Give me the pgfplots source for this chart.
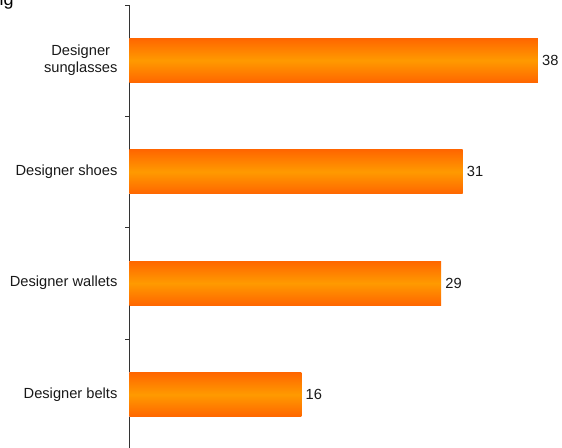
\documentclass[border=0pt]{standalone}
\usepackage{pgfplots}
\pgfplotsset{compat=1.18}
\usetikzlibrary{calc}
\usepackage{fontspec}
\setmainfont{Liberation Sans}
\definecolor{barDark}{HTML}{FF6600}
\definecolor{barLight}{HTML}{FF9A00}
\begin{document}
\begin{tikzpicture}
\begin{axis}[
  scale only axis,
  width=322.5pt, height=334.2pt,
  xmin=0, xmax=40,
  ymin=0.5, ymax=4.5,
  xbar, bar width=33.2pt, bar shift=0pt,
  axis x line=none,
  axis y line*=left,
  y axis line style={-, black!80},
  ytick={1,2,3,4},
  yticklabels={Designer belts, Designer wallets, Designer shoes, {Designer\\sunglasses}},
  major tick length=0pt,
  minor ytick={0.5,1.5,2.5,3.5,4.5},
  minor tick length=3.2pt,
  tick align=outside,
  tick style={black!80},
  /pgf/number format/assume math mode=true,
  yticklabel style={align=center, font=\fontsize{11}{13}\selectfont, xshift=-5.5pt, text=black!90},
  nodes near coords,
  nodes near coords style={font=\fontsize{11}{13}\selectfont, anchor=west, inner sep=0pt, xshift=3pt, text=black!90},
  every axis plot/.append style={draw=none, top color=barDark, bottom color=barDark, middle color=barLight},
  clip=false,
]
\addplot coordinates {(16,1)};
\addplot coordinates {(29,2)};
\addplot coordinates {(31,3)};
\addplot coordinates {(38,4)};
\coordinate (tl) at (rel axis cs:0,1);
\end{axis}
\node[anchor=base west, inner sep=0pt, font=\fontsize{13.5}{15}\selectfont] at ($(tl)+(-97.6pt,-0.8pt)$) {ig};
\pgfresetboundingbox
\path[use as bounding box] ($(tl)+(-97.1pt,3.5pt)$) rectangle ($(tl)+(324.4pt,-332.5pt)$);
\end{tikzpicture}
\end{document}
